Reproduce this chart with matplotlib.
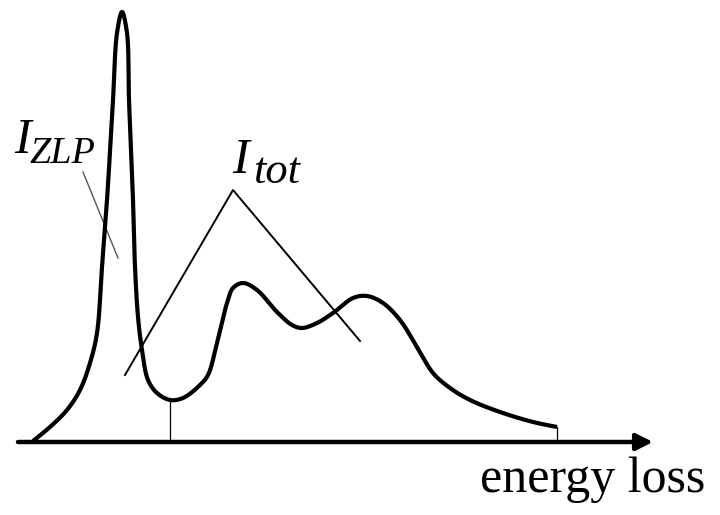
import matplotlib
matplotlib.use("Agg")
import matplotlib.pyplot as plt
import numpy as np

BASE = 442  # baseline of the energy-loss axis (pixel row)

# spectrum outline: energy position and row of the curve
energy = [33, 50, 67, 80, 90, 97, 102, 107, 113, 117, 122, 127, 129, 133, 135,
          138, 142, 148, 157, 170, 183, 200, 208, 217, 227, 233, 243, 257, 277,
          292, 302, 317, 333, 353, 367, 383, 400, 417, 433, 450, 470, 500, 533, 557]
rows = [441, 427, 410, 390, 363, 333, 267, 200, 100, 33, 12, 33, 100, 200, 267,
        317, 350, 380, 393, 400, 398, 385, 375, 343, 303, 288, 283, 290, 312,
        325, 328, 323, 313, 298, 296, 303, 320, 347, 373, 388, 400, 412, 422, 427]
intensity = [BASE - r for r in rows]

# integration limits (ZLP minimum and end of the spectrum)
limits_x = [170, 557]

# leader lines for the labels
zlp_leader = ([83, 118], [BASE - 172, BASE - 258])
tot_leader = ([125, 233, 360], [BASE - 375, BASE - 190, BASE - 341])


def catmull_rom(x, y, n=30):
    """Centripetal Catmull-Rom curve through the given points."""
    p = np.column_stack([x, y]).astype(float)
    p = np.vstack([2 * p[0] - p[1], p, 2 * p[-1] - p[-2]])
    out = []
    for i in range(1, len(p) - 2):
        p0, p1, p2, p3 = p[i - 1], p[i], p[i + 1], p[i + 2]
        t0 = 0.0
        t1 = t0 + np.linalg.norm(p1 - p0) ** 0.5
        t2 = t1 + np.linalg.norm(p2 - p1) ** 0.5
        t3 = t2 + np.linalg.norm(p3 - p2) ** 0.5
        t = np.linspace(t1, t2, n)[:, None]
        a1 = (t1 - t) / (t1 - t0) * p0 + (t - t0) / (t1 - t0) * p1
        a2 = (t2 - t) / (t2 - t1) * p1 + (t - t1) / (t2 - t1) * p2
        a3 = (t3 - t) / (t3 - t2) * p2 + (t - t2) / (t3 - t2) * p3
        b1 = (t2 - t) / (t2 - t0) * a1 + (t - t0) / (t2 - t0) * a2
        b2 = (t3 - t) / (t3 - t1) * a2 + (t - t1) / (t3 - t1) * a3
        c = (t2 - t) / (t2 - t1) * b1 + (t - t1) / (t2 - t1) * b2
        out.append(c)
    c = np.vstack(out)
    return c[:, 0], c[:, 1]


fig = plt.figure(figsize=(7.2, 5.15), dpi=100)
ax = fig.add_axes([0, 0, 1, 1])
ax.set_xlim(0, 720)
ax.set_ylim(BASE - 515, BASE)
ax.axis("off")

cx, cy = catmull_rom(energy, intensity)
ax.plot(cx, cy, color="black", lw=3.0, solid_capstyle="butt", zorder=3)

# vertical markers down to the axis
for xl in limits_x:
    yl = np.interp(xl, cx, cy)
    ax.plot([xl, xl], [0, yl], color="black", lw=0.9)

# energy axis with arrow
ax.annotate("", xy=(653, 0), xytext=(18, 0),
            arrowprops=dict(arrowstyle="-|>", mutation_scale=25, lw=3.2,
                            color="black", shrinkA=0, shrinkB=0))
ax.text(480, BASE - 492, "energy loss", fontsize=36, family="Liberation Serif",
        ha="left", va="baseline")

ax.plot(*zlp_leader, color="#555555", lw=1.0)
ax.plot(*tot_leader, color="black", lw=1.4)

# labels: italic symbol with a lowered subscript
label_font = dict(family="Liberation Serif", style="italic",
                  ha="left", va="baseline")
ax.text(14, BASE - 153, "I", fontsize=36, **label_font)
ax.text(30, BASE - 163, "ZLP", fontsize=27.5, **label_font)
ax.text(232, BASE - 173, "I", fontsize=36, **label_font)
ax.text(253, BASE - 183, "tot", fontsize=32, **label_font)

fig.savefig("out.png", dpi=100)
